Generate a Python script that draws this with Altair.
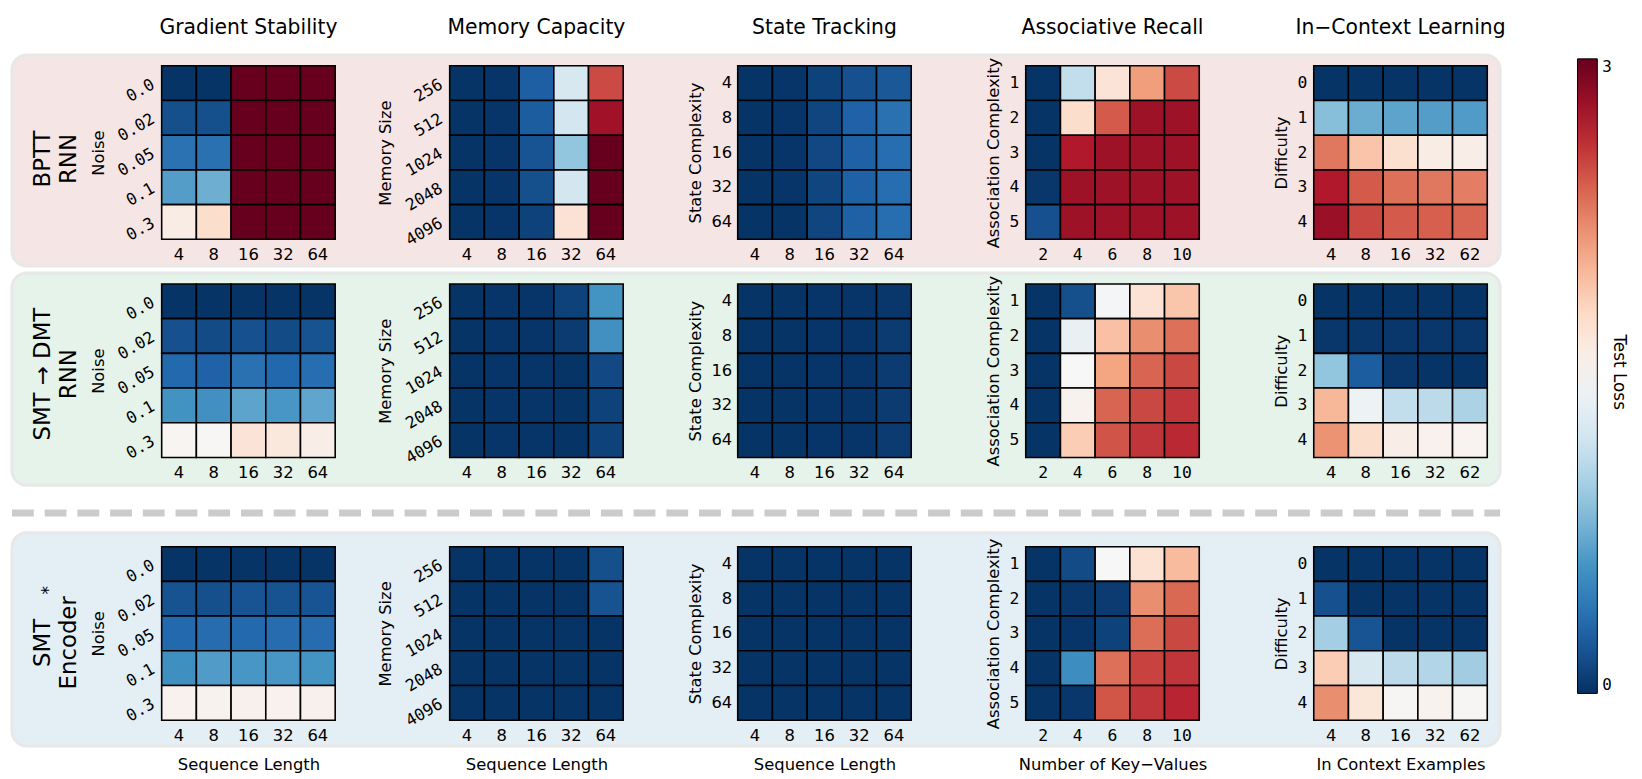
import altair as alt
import pandas as pd

SANS = "DejaVu Sans"
MONO = "DejaVu Sans Mono"

# ---------------- categories / labels ----------------
models = [["BPTT", "RNN"], ["SMT \u2192 DMT", "RNN"], ["SMT", "Encoder"]]
model_marks = ["", "", "*"]
tasks = ["Gradient Stability", "Memory Capacity", "State Tracking",
         "Associative Recall", "In\u2212Context Learning"]
cbar_title = "Test Loss"

noise = ["0.0", "0.02", "0.05", "0.1", "0.3"]
seq_len = ["4", "8", "16", "32", "64"]
mem_size = ["256", "512", "1024", "2048", "4096"]
state_cx = ["4", "8", "16", "32", "64"]
assoc_cx = ["1", "2", "3", "4", "5"]
num_kv = ["2", "4", "6", "8", "10"]
difficulty = ["0", "1", "2", "3", "4"]
icl_examples = ["4", "8", "16", "32", "62"]

# ---------------- values (test loss), rows = y categories top->bottom ----------------
bptt_grad = [[0.02, 0.02, 3.0, 3.0, 3.0],
             [0.17, 0.17, 3.0, 3.0, 3.0],
             [0.38, 0.37, 3.0, 3.0, 3.0],
             [0.66, 0.76, 3.0, 3.0, 3.0],
             [1.62, 1.77, 3.0, 3.0, 3.0]]
bptt_mem = [[0.02, 0.03, 0.26, 1.25, 2.49],
            [0.02, 0.03, 0.25, 1.22, 2.77],
            [0.02, 0.03, 0.20, 0.90, 3.0],
            [0.02, 0.03, 0.17, 1.22, 3.0],
            [0.02, 0.03, 0.10, 1.72, 3.0]]
bptt_state = [[0.02, 0.03, 0.10, 0.18, 0.22],
              [0.02, 0.03, 0.12, 0.28, 0.37],
              [0.02, 0.03, 0.13, 0.27, 0.35],
              [0.02, 0.03, 0.12, 0.27, 0.35],
              [0.02, 0.02, 0.12, 0.27, 0.35]]
bptt_assoc = [[0.02, 1.13, 1.70, 2.13, 2.49],
              [0.02, 1.77, 2.42, 2.78, 2.78],
              [0.02, 2.70, 2.78, 2.78, 2.78],
              [0.04, 2.78, 2.78, 2.78, 2.78],
              [0.18, 2.78, 2.78, 2.78, 2.78]]
bptt_icl = [[0.02, 0.02, 0.02, 0.02, 0.02],
            [0.86, 0.75, 0.70, 0.66, 0.65],
            [2.30, 1.93, 1.75, 1.62, 1.60],
            [2.70, 2.42, 2.33, 2.30, 2.27],
            [2.80, 2.50, 2.42, 2.40, 2.38]]

dmt_grad = [[0.02, 0.02, 0.02, 0.02, 0.02],
            [0.18, 0.15, 0.18, 0.15, 0.19],
            [0.32, 0.28, 0.37, 0.31, 0.35],
            [0.59, 0.58, 0.70, 0.62, 0.71],
            [1.53, 1.51, 1.70, 1.66, 1.60]]
dmt_mem = [[0.02, 0.03, 0.03, 0.10, 0.60],
           [0.02, 0.03, 0.03, 0.06, 0.58],
           [0.02, 0.03, 0.03, 0.02, 0.14],
           [0.02, 0.03, 0.03, 0.02, 0.10],
           [0.02, 0.03, 0.03, 0.02, 0.10]]
dmt_state = [[0.02, 0.02, 0.03, 0.03, 0.04],
             [0.02, 0.02, 0.03, 0.03, 0.06],
             [0.02, 0.02, 0.03, 0.03, 0.06],
             [0.02, 0.02, 0.03, 0.03, 0.06],
             [0.02, 0.02, 0.03, 0.03, 0.06]]
dmt_assoc = [[0.02, 0.17, 1.47, 1.72, 1.92],
             [0.02, 1.38, 1.95, 2.20, 2.33],
             [0.02, 1.50, 2.10, 2.38, 2.50],
             [0.02, 1.55, 2.38, 2.50, 2.58],
             [0.02, 1.88, 2.45, 2.58, 2.63]]
dmt_icl = [[0.02, 0.02, 0.02, 0.02, 0.02],
           [0.04, 0.04, 0.04, 0.04, 0.04],
           [0.90, 0.25, 0.04, 0.02, 0.02],
           [2.00, 1.42, 1.13, 1.10, 1.02],
           [2.18, 1.77, 1.60, 1.56, 1.54]]

enc_grad = [[0.02, 0.02, 0.02, 0.02, 0.02],
            [0.19, 0.17, 0.20, 0.19, 0.20],
            [0.32, 0.34, 0.32, 0.34, 0.34],
            [0.57, 0.65, 0.62, 0.62, 0.60],
            [1.56, 1.55, 1.57, 1.56, 1.57]]
enc_mem = [[0.02, 0.02, 0.02, 0.02, 0.17],
           [0.02, 0.02, 0.02, 0.02, 0.19],
           [0.02, 0.02, 0.02, 0.02, 0.02],
           [0.02, 0.02, 0.02, 0.02, 0.02],
           [0.02, 0.02, 0.02, 0.02, 0.02]]
enc_state = [[0.02, 0.02, 0.02, 0.02, 0.02],
             [0.02, 0.02, 0.02, 0.02, 0.02],
             [0.02, 0.02, 0.02, 0.02, 0.02],
             [0.02, 0.02, 0.02, 0.02, 0.02],
             [0.02, 0.02, 0.02, 0.02, 0.02]]
enc_assoc = [[0.02, 0.15, 1.50, 1.73, 1.98],
             [0.02, 0.04, 0.06, 2.20, 2.36],
             [0.02, 0.03, 0.10, 2.34, 2.50],
             [0.02, 0.56, 2.33, 2.52, 2.58],
             [0.02, 0.04, 2.44, 2.58, 2.65]]
enc_icl = [[0.02, 0.02, 0.02, 0.02, 0.02],
           [0.18, 0.02, 0.02, 0.02, 0.02],
           [0.98, 0.20, 0.02, 0.02, 0.02],
           [1.88, 1.25, 1.10, 1.05, 0.97],
           [2.20, 1.68, 1.52, 1.55, 1.52]]

VALUES = [[bptt_grad, bptt_mem, bptt_state, bptt_assoc, bptt_icl],
          [dmt_grad, dmt_mem, dmt_state, dmt_assoc, dmt_icl],
          [enc_grad, enc_mem, enc_state, enc_assoc, enc_icl]]

AX = [
    dict(ycats=noise, ytitle="Noise", ymono=True, yangle=330, ypad=9, yext=52,
         xcats=seq_len, xmono=False, xtitle="Sequence Length"),
    dict(ycats=mem_size, ytitle="Memory Size", ymono=True, yangle=330, ypad=9, yext=53,
         xcats=seq_len, xmono=False, xtitle="Sequence Length"),
    dict(ycats=state_cx, ytitle="State Complexity", ymono=False, yangle=0, ypad=6, yext=31,
         xcats=seq_len, xmono=False, xtitle="Sequence Length"),
    dict(ycats=assoc_cx, ytitle="Association Complexity", ymono=True, yangle=0, ypad=7, yext=20,
         xcats=num_kv, xmono=True, xtitle="Number of Key\u2212Values"),
    dict(ycats=difficulty, ytitle="Difficulty", ymono=True, yangle=0, ypad=7, yext=20,
         xcats=icl_examples, xmono=False, xtitle="In Context Examples"),
]

# matplotlib RdBu_r
RDBU_R = ["#053061", "#2166ac", "#4393c3", "#92c5de", "#d1e5f0", "#f7f7f7",
          "#fddbc7", "#f4a582", "#d6604d", "#b2182b", "#67001f"]
CDOMAIN = [0, 0.3, 0.6, 0.9, 1.2, 1.5, 1.8, 2.1, 2.4, 2.7, 3.0]

BAND_FILL = ["#f6e5e5", "#e5f3ea", "#e3eef5"]
BAND_Y = [(-11, 202), (-11, 203), (31, 246)]
LABEL_Y = [94, 91, 142]

one = pd.DataFrame({"k": [0]})

cscale = alt.Scale(domain=CDOMAIN, range=RDBU_R, interpolate="rgb")
legend = alt.Legend(orient="none", legendX=1428, legendY=-7, direction="vertical",
                    gradientLength=640, gradientThickness=20, values=[0, 3], format="d",
                    title=None,
                    labelFont=MONO, labelFontSize=16, labelColor="black", labelOffset=5,
                    gradientStrokeColor="black", gradientStrokeWidth=1, padding=0)


def panel(r, c):
    ax = AX[c]
    vals = VALUES[r][c]
    df = pd.DataFrame([{"x": xc, "y": yc, "v": vals[i][j]}
                       for i, yc in enumerate(ax["ycats"])
                       for j, xc in enumerate(ax["xcats"])])
    h = 220 if r == 2 else 175
    if r == 2:
        yscale = alt.Scale(paddingInner=0, paddingOuter=0, range=[45, 220])
    else:
        yscale = alt.Scale(paddingInner=0, paddingOuter=0)
    xaxis = alt.Axis(title=ax["xtitle"] if r == 2 else None,
                     labelFont=MONO if ax["xmono"] else SANS, labelFontSize=16.5,
                     labelAngle=0, labelPadding=7, ticks=False, domain=False, grid=False,
                     titleFont=SANS, titleFontSize=16.5, titleFontWeight="normal",
                     titlePadding=13, minExtent=24, maxExtent=24, zindex=1,
                     labelColor="black", titleColor="black")
    yaxis = alt.Axis(title=ax["ytitle"], labelFont=MONO if ax["ymono"] else SANS,
                     labelFontSize=16.5, labelAngle=ax["yangle"], labelAlign="right",
                     labelBaseline="middle", labelPadding=ax["ypad"], ticks=False,
                     domain=False, grid=False, titleFont=SANS, titleFontSize=16.5,
                     titleFontWeight="normal", titlePadding=4,
                     minExtent=ax["yext"], maxExtent=ax["yext"], zindex=1,
                     labelColor="black", titleColor="black")
    heat = alt.Chart(df).mark_rect(stroke="black", strokeWidth=1.6).encode(
        x=alt.X("x:N", sort=ax["xcats"], scale=alt.Scale(paddingInner=0, paddingOuter=0), axis=xaxis),
        y=alt.Y("y:N", sort=ax["ycats"], scale=yscale, axis=yaxis),
        color=alt.Color("v:Q", scale=cscale, legend=legend),
    )
    layers = []
    if c == 0:
        y0, y1 = BAND_Y[r]
        band = alt.Chart(one).mark_rect(fill=BAND_FILL[r], stroke="#e8e8e8", strokeWidth=3,
                                        cornerRadius=15).encode(
            x=alt.value(-151), x2=alt.value(1350), y=alt.value(y0), y2=alt.value(y1))
        layers.append(band)
        if r == 0:
            anchor = alt.Chart(one).mark_rect(opacity=0).encode(
                x=alt.value(-150), x2=alt.value(-140), y=alt.value(-55), y2=alt.value(-45))
            layers.append(anchor)
        if r == 1:
            dash = alt.Chart(one).mark_rule(stroke="#cbcbcb", strokeWidth=7,
                                            strokeDash=[22, 11], strokeCap="butt").encode(
                x=alt.value(-151), x2=alt.value(1350), y=alt.value(231))
            layers.append(dash)
    layers.append(heat)
    if c == 0:
        lab = alt.Chart(one).mark_text(angle=270, fontSize=23, lineHeight=27, align="center",
                                       baseline="middle", font=SANS, color="black").encode(
            x=alt.value(-120), y=alt.value(LABEL_Y[r]), text=alt.value(models[r]))
        layers.append(lab)
        if model_marks[r]:
            star = alt.Chart(one).mark_text(angle=270, fontSize=17, align="center",
                                            baseline="middle", font=SANS, color="black").encode(
                x=alt.value(-114), y=alt.value(LABEL_Y[r] - 53), text=alt.value(model_marks[r]))
            layers.append(star)
    if r == 0:
        ttl = alt.Chart(one).mark_text(fontSize=20.5, align="center", baseline="middle",
                                       font=SANS, color="black").encode(
            x=alt.value(87.5), y=alt.value(-38), text=alt.value(tasks[c]))
        layers.append(ttl)
        if c == 4:
            cb = alt.Chart(one).mark_text(fontSize=17, angle=90, align="center",
                                          baseline="middle", font=SANS, color="black").encode(
                x=alt.value(308), y=alt.value(309), text=alt.value(cbar_title))
            layers.append(cb)
    return alt.layer(*layers).properties(width=175, height=h)


panels = [panel(r, c) for r in range(3) for c in range(5)]

chart = alt.concat(*panels, columns=5, spacing={"row": 45, "column": 115.5},
                   bounds="flush").configure_view(stroke=None).properties(
    padding={"left": 0, "top": 0, "right": 6, "bottom": 0})

chart.save("out.html", embed_options={"renderer": "svg", "actions": False})
